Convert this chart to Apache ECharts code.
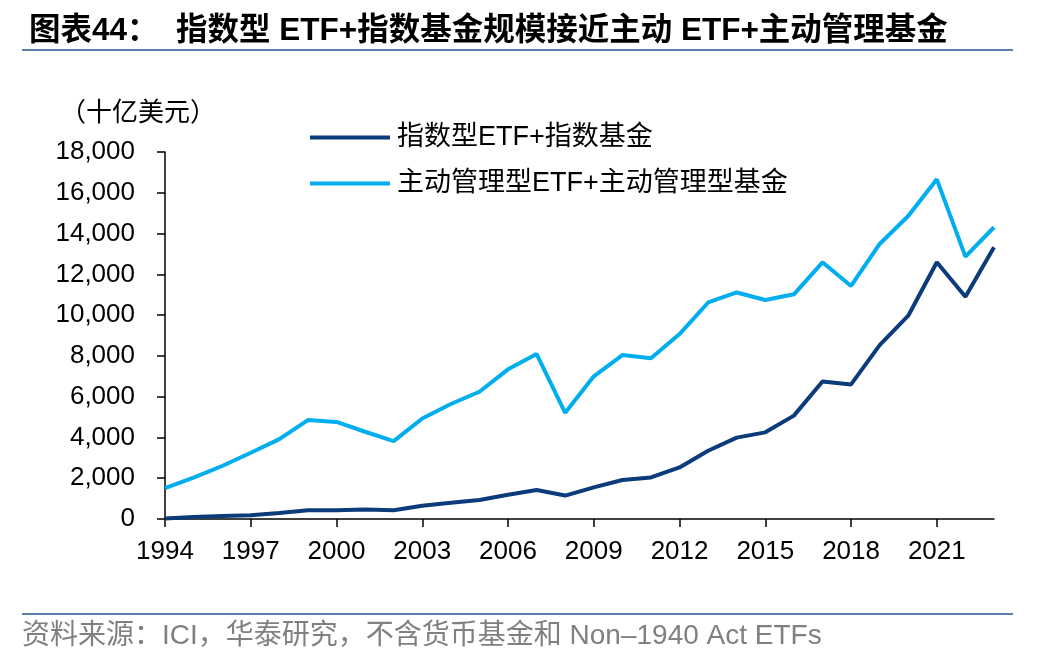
<!DOCTYPE html>
<html><head><meta charset="utf-8">
<script src="https://cdn.jsdelivr.net/npm/echarts@6/dist/echarts.min.js"></script>
<style>html,body{margin:0;padding:0;background:#fff}#c{width:1048px;height:664px}</style>
</head><body><div id="c"></div>
<script>
const years = ['1994','1995','1996','1997','1998','1999','2000','2001','2002','2003','2004','2005','2006','2007','2008','2009','2010','2011','2012','2013','2014','2015','2016','2017','2018','2019','2020','2021','2022','2023'];
const indexFunds = [30,100,150,180,290,425,425,470,425,650,800,930,1190,1420,1150,1550,1910,2040,2530,3350,3990,4250,5070,6740,6600,8530,9970,12590,10900,13330];
const activeFunds = [1510,2030,2600,3250,3920,4850,4760,4280,3820,4930,5640,6240,7340,8090,5210,7000,8040,7880,9070,10620,11110,10740,11020,12590,11430,13490,14860,16660,12870,14310];
const seriesNames = ['指数型ETF+指数基金','主动管理型ETF+主动管理型基金'];
const chart = echarts.init(document.getElementById('c'));
const F = '"Liberation Sans", Arial, "Noto Sans CJK SC", sans-serif';
chart.setOption({
  animation:false,
  title:{text:'图表44：  指数型 ETF+指数基金规模接近主动 ETF+主动管理基金',left:24,top:11,
    textStyle:{fontFamily:F,fontSize:31.5,fontWeight:'bold',color:'#000'}},
  graphic:[
    {type:'rect',shape:{x:22,y:49,width:991,height:2},style:{fill:'#5b7fb0'}},
    {type:'rect',shape:{x:22,y:613,width:991,height:2},style:{fill:'#5b7fb0'}},
    {type:'text',left:22,top:622,style:{text:'资料来源：ICI，华泰研究，不含货币基金和 Non–1940 Act ETFs',font:'28px '+F,fill:'#808080'}},
    {type:'text',left:60,top:101,style:{text:'（十亿美元）',font:'26px '+F,fill:'#000'}}
  ],
  legend:{orient:'vertical',left:305,top:119,itemGap:19,itemWidth:80,itemHeight:4,icon:'rect',
    textStyle:{fontFamily:F,fontSize:27,lineHeight:27,color:'#000',padding:[0,0,0,2]},data:seriesNames},
  grid:{left:165,right:54,top:152,bottom:145,containLabel:false},
  xAxis:{type:'category',data:years,boundaryGap:false,
    axisLine:{lineStyle:{color:'#000',width:1.5}},
    axisTick:{interval:2,length:8,lineStyle:{color:'#000',width:1.5}},
    axisLabel:{interval:2,fontFamily:F,fontSize:26,color:'#000',margin:20}},
  yAxis:{type:'value',min:0,max:18000,interval:2000,
    splitLine:{show:false},
    axisLine:{show:true,lineStyle:{color:'#000',width:1.5}},
    axisTick:{show:true,length:8,lineStyle:{color:'#000',width:1.5}},
    axisLabel:{fontFamily:F,fontSize:26,color:'#000',margin:30,
      formatter:v=>v.toLocaleString('en-US')}},
  series:[
    {name:seriesNames[0],type:'line',data:indexFunds,symbol:'none',color:'#0b3b7a',lineStyle:{width:4,color:'#0b3b7a'}},
    {name:seriesNames[1],type:'line',data:activeFunds,symbol:'none',color:'#00aeef',lineStyle:{width:4,color:'#00aeef'}}
  ]
});
</script></body></html>
